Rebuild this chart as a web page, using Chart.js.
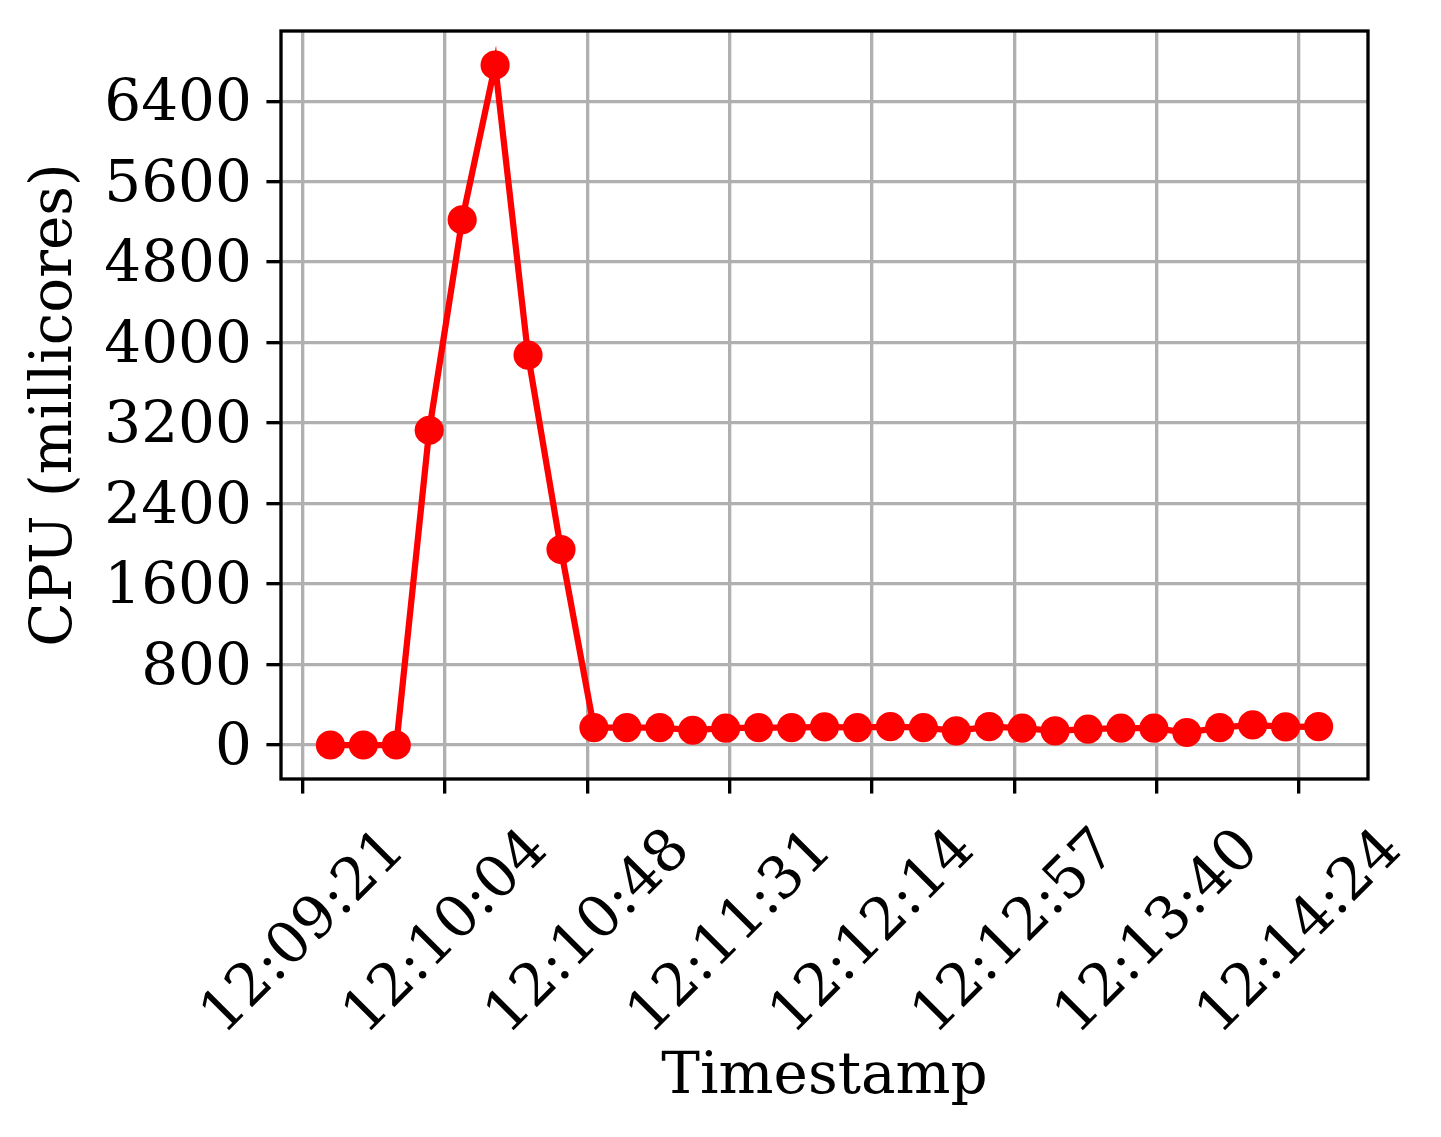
<!DOCTYPE html>
<html><head><meta charset="utf-8">
<script src="https://cdn.jsdelivr.net/npm/chart.js@4.4.0/dist/chart.umd.min.js"></script>
<style>html,body{margin:0;padding:0;background:#fff;}</style>
</head><body>
<canvas id="c" width="1441" height="1137"></canvas>
<script>
// ---- data ----
const timestamps = ["12:09:30","12:09:40","12:09:50","12:10:00","12:10:10","12:10:20","12:10:30","12:10:40",
  "12:10:50","12:11:00","12:11:10","12:11:20","12:11:30","12:11:40","12:11:50","12:12:00","12:12:10","12:12:20",
  "12:12:30","12:12:40","12:12:50","12:13:00","12:13:10","12:13:20","12:13:30","12:13:40","12:13:50","12:14:00",
  "12:14:10","12:14:20","12:14:30"];
const cpuMillicores = [0,0,0,3129,5221,6760,3876,1943,173,173,173,147,167,173,173,180,173,183,173,141,183,167,141,157,167,167,124,173,200,180,183];
const xTickTimes = ["12:09:21.6","12:10:04.8","12:10:48.0","12:11:31.2","12:12:14.4","12:12:57.6","12:13:40.8","12:14:24.0"];
const xTickLabels = ["12:09:21","12:10:04","12:10:48","12:11:31","12:12:14","12:12:57","12:13:40","12:14:24"];
const yTickValues = [0,800,1600,2400,3200,4000,4800,5600,6400];
const yTickLabels = ["0","800","1600","2400","3200","4000","4800","5600","6400"];
const xTitle = "Timestamp";
const yTitle = "CPU (millicores)";

// ---- helpers ----
function toSec(t){ const p=t.split(':'); return (+p[0])*3600 + (+p[1])*60 + parseFloat(p[2]) - 12*3600 - 9*60; }
const xs = timestamps.map(toSec);
const points = xs.map((x,i)=>({x:x, y:cpuMillicores[i]}));
const xTickSec = xTickTimes.map(toSec);
function padRange(arr){ const mn=Math.min(...arr), mx=Math.max(...arr), m=(mx-mn)*0.05; return [mn-m, mx+m]; }
const [xMin,xMax] = padRange(xs);
const [yMin,yMax] = padRange(cpuMillicores);

const FONT = "'DejaVu Serif', serif";
const PT = 300/72;
const frame = {
  id:'frame',
  afterDatasetsDraw(chart){
    const {ctx, chartArea:a} = chart;
    ctx.save(); ctx.strokeStyle='#000'; ctx.lineWidth=0.8*PT;
    ctx.strokeRect(a.left, a.top, a.right-a.left, a.bottom-a.top);
    ctx.restore();
  }
};

new Chart(document.getElementById('c'), {
  type:'line',
  data:{ datasets:[{ data:points, borderColor:'#ff0000', backgroundColor:'#ff0000',
    borderWidth:1.5*PT, pointRadius:3.5*PT, pointBorderWidth:0, pointBackgroundColor:'#ff0000',
    tension:0, clip:false }]},
  options:{
    responsive:false, animation:false, devicePixelRatio:1,
    layout:{ padding:{ top:31, right:73, left:0, bottom:0 } },
    plugins:{ legend:{display:false}, tooltip:{enabled:false} },
    scales:{
      x:{ type:'linear', min:xMin, max:xMax,
        afterBuildTicks(s){ s.ticks = xTickSec.map(v=>({value:v})); },
        afterFit(s){ s.height = 358; s.paddingLeft = 0; s.paddingRight = 0; },
        grid:{ color:'#b0b0b0', lineWidth:0.8*PT, tickColor:'#000', tickWidth:0.8*PT, tickLength:3.5*PT },
        border:{ display:false },
        ticks:{ autoSkip:false, minRotation:45, maxRotation:45, padding:23, labelOffset:94,
          color:'#000', font:{family:FONT, size:58},
          callback:(v,i)=>xTickLabels[i] },
        title:{ display:true, text:xTitle, color:'#000', font:{family:FONT, size:58}, padding:{top:0,bottom:24} }
      },
      y:{ type:'linear', min:yMin, max:yMax,
        afterBuildTicks(s){ s.ticks = yTickValues.map(v=>({value:v})); },
        afterFit(s){ s.width = 281; s.paddingTop = 0; s.paddingBottom = 0; },
        grid:{ color:'#b0b0b0', lineWidth:0.8*PT, tickColor:'#000', tickWidth:0.8*PT, tickLength:3.5*PT },
        border:{ display:false },
        ticks:{ padding:3.5*PT, labelOffset:4, color:'#000', font:{family:FONT, size:58},
          callback:(v,i)=>yTickLabels[i] },
        title:{ display:true, text:yTitle, color:'#000', font:{family:FONT, size:58}, padding:{top:21,bottom:0} }
      }
    }
  },
  plugins:[frame]
});
</script>
</body></html>
